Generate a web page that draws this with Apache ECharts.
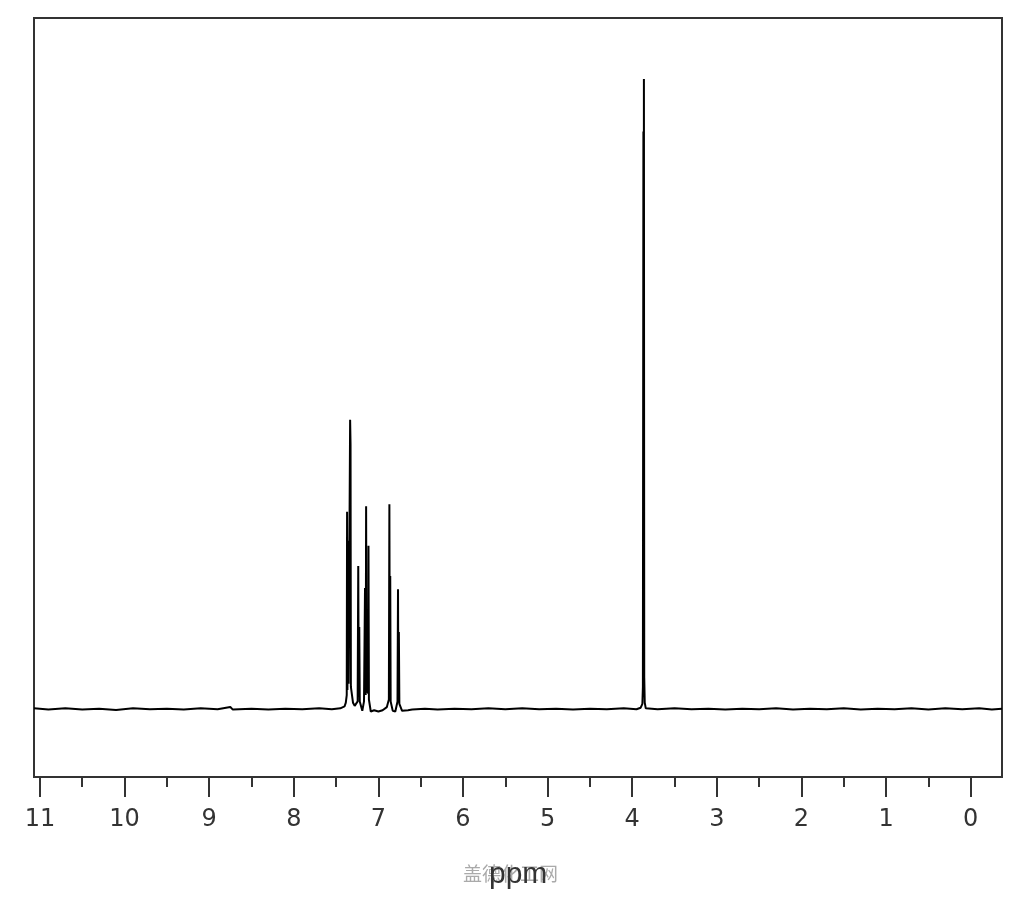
<!DOCTYPE html>
<html>
<head>
<meta charset="utf-8">
<script src="https://cdn.jsdelivr.net/npm/echarts@6/dist/echarts.min.js"></script>
<style>
  html, body { margin: 0; padding: 0; background: #fff; }
  #chart { width: 1024px; height: 900px; }
</style>
</head>
<body>
<div id="chart"></div>
<script>
// 1H NMR spectrum, [ppm, intensity] (tallest line = 100)
const baseLeft = [
  [11.07, 0.1], [10.9, -0.1], [10.7, 0.1], [10.5, -0.1], [10.3, 0.05], [10.1, -0.15], [9.9, 0.1],
  [9.7, -0.05], [9.5, 0.05], [9.3, -0.1], [9.1, 0.1], [8.9, -0.05], [8.75, 0.3], [8.72, -0.1],
  [8.5, 0.05], [8.3, -0.1], [8.1, 0.05], [7.9, -0.05], [7.7, 0.1], [7.55, -0.05]
];
const aromatic = [
  [7.45, 0.1], [7.40, 0.4], [7.385, 1.0], [7.374, 2.2], [7.370, 31.3], [7.366, 3.0],
  [7.357, 26.7], [7.352, 4.0], [7.334, 45.9], [7.329, 42.0], [7.325, 3.5], [7.30, 1.0],
  [7.28, 0.5], [7.245, 1.2], [7.238, 22.7], [7.232, 2.0], [7.226, 13.0], [7.220, 1.2],
  [7.19, -0.3], [7.17, 1.2], [7.158, 19.2], [7.150, 2.2], [7.145, 32.2], [7.140, 3.0],
  [7.120, 2.5], [7.117, 25.9], [7.112, 1.5], [7.09, -0.4], [7.05, -0.2], [7.0, -0.4],
  [6.95, -0.2], [6.90, 0.3], [6.876, 1.5], [6.870, 32.5], [6.865, 2.5], [6.860, 21.1],
  [6.855, 1.2], [6.83, -0.3], [6.80, -0.4], [6.774, 1.2], [6.768, 19.0], [6.764, 2.0],
  [6.758, 12.2], [6.752, 0.8], [6.72, -0.3], [6.65, -0.2], [6.60, -0.1]
];
const baseMid = [
  [6.45, 0.05], [6.3, -0.1], [6.1, 0.05], [5.9, -0.05], [5.7, 0.1], [5.5, -0.05], [5.3, 0.1],
  [5.1, -0.05], [4.9, 0.05], [4.7, -0.1], [4.5, 0.05], [4.3, -0.05], [4.1, 0.1], [3.95, -0.05]
];
const methoxy = [
  [3.90, 0.2], [3.88, 0.8], [3.874, 3.5], [3.868, 91.7], [3.865, 6.0], [3.862, 100],
  [3.858, 5.0], [3.852, 1.0], [3.84, 0.1]
];
const baseRight = [
  [3.7, -0.05], [3.5, 0.1], [3.3, -0.05], [3.1, 0.05], [2.9, -0.1], [2.7, 0.05], [2.5, -0.05],
  [2.3, 0.1], [2.1, -0.1], [1.9, 0.05], [1.7, -0.05], [1.5, 0.1], [1.3, -0.1], [1.1, 0.05],
  [0.9, -0.05], [0.7, 0.1], [0.5, -0.1], [0.3, 0.1], [0.1, -0.05], [-0.1, 0.1], [-0.25, -0.1],
  [-0.37, 0.05]
];
const majorTicks = [0, 1, 2, 3, 4, 5, 6, 7, 8, 9, 10, 11];
const minorTicks = [0.5, 1.5, 2.5, 3.5, 4.5, 5.5, 6.5, 7.5, 8.5, 9.5, 10.5];

const spectrum = baseLeft.concat(aromatic, baseMid, methoxy, baseRight);

const chart = echarts.init(document.getElementById('chart'));
const xBase = {
  type: 'value',
  min: -0.37,
  max: 11.07,
  inverse: true,
  splitLine: { show: false },
  axisLine: { show: false, onZero: false }
};
chart.setOption({
  animation: false,
  backgroundColor: '#fff',
  grid: {
    show: true, left: 34, right: 22, top: 18, bottom: 123,
    borderColor: '#333', borderWidth: 2, backgroundColor: '#fff'
  },
  xAxis: [
    Object.assign({}, xBase, {
      axisTick: { show: true, length: 20, lineStyle: { color: '#333', width: 2 }, customValues: majorTicks },
      axisLabel: {
        customValues: majorTicks, margin: 31, fontSize: 24,
        fontFamily: 'DejaVu Sans', color: '#333'
      }
    }),
    Object.assign({}, xBase, {
      position: 'bottom',
      axisTick: { show: true, length: 10, lineStyle: { color: '#333', width: 2 }, customValues: minorTicks },
      axisLabel: { show: false }
    })
  ],
  yAxis: { type: 'value', min: -10.8, max: 109.7, show: false },
  series: [{
    type: 'line',
    data: spectrum,
    showSymbol: false,
    lineStyle: { color: '#000', width: 2 },
    silent: true
  }],
  graphic: [
    {
      type: 'text', left: 463, top: 864,
      style: { text: '盖德化工网', font: '19px "Noto Sans CJK SC"', fill: '#aaa' }
    },
    {
      type: 'text', left: 489, top: 860,
      style: { text: 'ppm', font: '30px "Liberation Sans"', fill: '#333' }
    }
  ]
});
</script>
</body>
</html>
